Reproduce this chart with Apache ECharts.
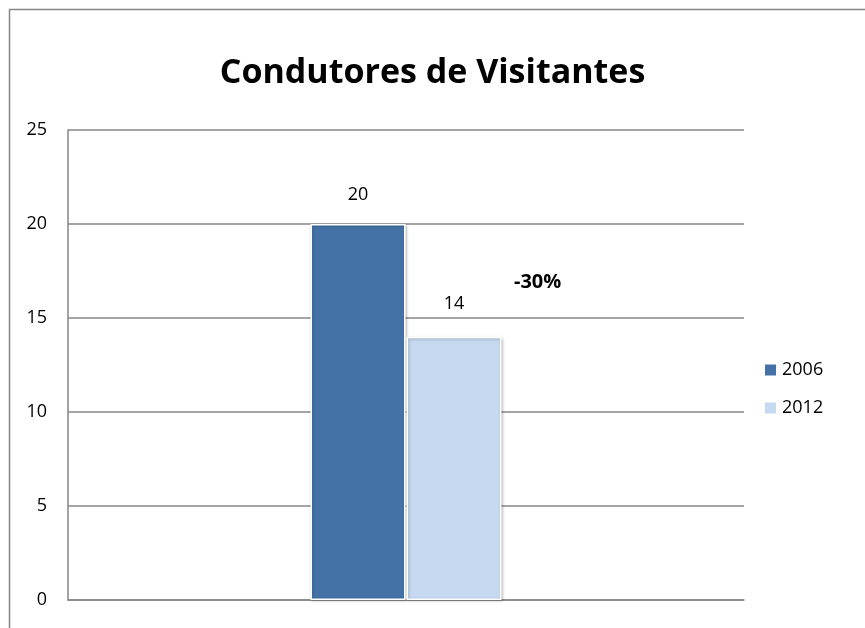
<!DOCTYPE html>
<html><head><meta charset="utf-8">
<script src="https://cdn.jsdelivr.net/npm/echarts@6/dist/echarts.min.js"></script>
<style>html,body{margin:0;padding:0;background:#fff}#c{width:865px;height:628px}</style>
</head><body><div id="c"></div>
<script>
const categories = [''];
const seriesNames = ['2006', '2012'];
const values2006 = [20];
const values2012 = [14];
const yTicks = [0, 5, 10, 15, 20, 25];
const changeLabel = '-30%';

const chart = echarts.init(document.getElementById('c'));
const font = '"Open Sans", sans-serif';
chart.setOption({
  animation: false,
  title: {
    text: 'Condutores de Visitantes', left: 'center', top: 51,
    textStyle: { fontFamily: font, fontWeight: 'bold', fontSize: 34, color: '#000' }
  },
  legend: {
    orient: 'vertical', left: 758, top: 356, itemGap: 20,
    itemWidth: 13, itemHeight: 13, icon: 'rect',
    textStyle: { fontFamily: font, fontSize: 18, color: '#000' },
    data: seriesNames
  },
  grid: { left: 68, right: 121, top: 130, bottom: 28 },
  xAxis: {
    type: 'category', data: categories,
    axisLine: { lineStyle: { color: '#868686', width: 1.5 } },
    axisTick: { show: false }, axisLabel: { show: false }
  },
  yAxis: {
    type: 'value', min: yTicks[0], max: yTicks[yTicks.length - 1], interval: 5,
    axisLine: { show: true, lineStyle: { color: '#868686', width: 1.5 } },
    axisTick: { show: false },
    splitLine: { lineStyle: { color: '#868686', width: 1.5 } },
    axisLabel: { fontFamily: font, fontSize: 18, color: '#000', margin: 21 }
  },
  series: [
    {
      name: seriesNames[0], type: 'bar', data: values2006, barWidth: 95, barGap: '1%',
      itemStyle: { color: '#4472A7', borderColor: '#fff', borderWidth: 1.5,
        shadowColor: 'rgba(0,0,0,0.25)', shadowBlur: 3, shadowOffsetX: 1, shadowOffsetY: 1 },
      label: { show: true, position: 'top', distance: 20, fontFamily: font, fontSize: 18, color: '#000' }
    },
    {
      name: seriesNames[1], type: 'bar', data: values2012, barWidth: 95,
      itemStyle: { color: '#C6D9F0', borderColor: '#fff', borderWidth: 1.5,
        shadowColor: 'rgba(0,0,0,0.25)', shadowBlur: 3, shadowOffsetX: 1, shadowOffsetY: 1 },
      label: { show: true, position: 'top', distance: 24, fontFamily: font, fontSize: 18, color: '#000' }
    }
  ],
  graphic: [
    { type: 'rect', left: 7, top: 7, shape: { width: 870, height: 640 },
      style: { fill: 'none', stroke: '#868686', lineWidth: 1.5 }, silent: true, z: -1 },
    { type: 'text', left: 514, top: 272,
      style: { text: changeLabel, fontFamily: font, fontWeight: 'bold', fontSize: 20, fill: '#000' } }
  ]
});
</script></body></html>
